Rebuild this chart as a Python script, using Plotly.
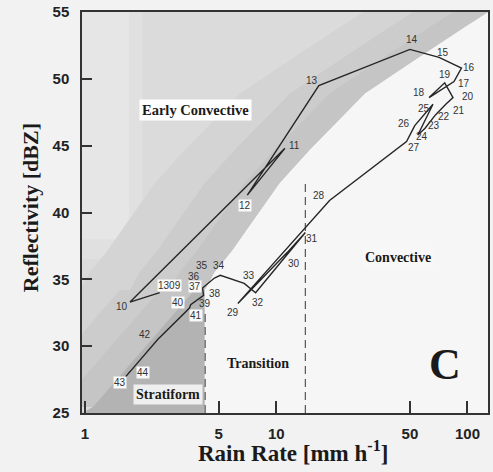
import numpy as np
import plotly.graph_objects as go

# ---------------- data ----------------
point_labels = ["1309", "10", "11", "12", "13", "14", "15", "16", "17", "18", "19",
                "20", "21", "22", "23", "24", "25", "26", "27", "28", "29", "30",
                "31", "32", "33", "34", "35", "36", "37", "38", "39", "40", "41",
                "42", "43", "44"]
rain_rate = [2.46, 1.72, 11.1, 7.06, 16.7, 50.0, 71.0, 93.0, 85.0, 63.0, 76.0,
             84.0, 77.0, 68.0, 60.0, 55.0, 66.0, 53.0, 48.0, 19.0, 6.3, 11.4,
             14.2, 7.8, 6.8, 5.1, 4.75, 4.37, 4.12, 4.17, 3.88, 3.57, 3.52,
             2.4, 1.63, 1.72]
reflectivity = [34.0, 33.3, 44.8, 41.3, 49.5, 52.2, 51.6, 50.8, 49.8, 48.6, 49.7,
                48.6, 48.1, 47.3, 46.3, 45.8, 48.1, 46.5, 45.3, 40.9, 33.2, 37.0,
                38.5, 34.0, 34.7, 35.3, 35.1, 34.7, 34.35, 33.8, 33.45, 33.1, 32.85,
                30.5, 27.7, 28.1]

# label offsets in pixels (right, down) and which labels sit on a white box
label_dx = [10, -8, 10, -2, -7, 2, 4, 8, 10, -10, 0, 15, 13, 9, 9, 4, -9, -11, 7,
            -11, -5, 7, 7, 2, 5, -1, -12, -13, -8, 11, 7, -13, 6, -13, -6, 13]
label_dy = [-7, 4, -3, 10, -5, -10, -5, -1, 2, -5, -8, -1, 6, 2, -3, 2, 4, -2, 6,
            -5, 9, 11, 6, 10, -8, -10, -13, -7, -2, -2, 3, -2, 7, -5, 6, 1]
boxed = {"1309", "37", "40", "41", "43", "44", "12"}

# region boundaries
stratiform_limit = 4.25      # mm/h
convective_limit = 14.2      # mm/h
stratiform_top = 32.4
convective_top = 42.4

# edge of the shaded Z-R band (lower-left to upper-right)
edge_rr = [1.10, 3.74, 4.22, 4.75, 5.90, 6.98, 10.4, 14.9, 29.1, 52.9, 96.5, 128]
edge_dbz = [25.45, 34.2, 34.2, 35.55, 37.19, 38.69, 42.2, 44.67, 48.93, 51.4, 53.87, 55]
strat_rr = [0.965, 4.22, 4.22, 3.74, 1.10]
strat_dbz = [25, 25, 34.2, 34.2, 25.45]

x_ticks = [1, 5, 10, 50, 100]
y_ticks = [25, 30, 35, 40, 45, 50, 55]
x_min, x_max = 0.965, 128
y_min, y_max = 25, 55

fig = go.Figure()

def poly(xs, ys, color):
    fig.add_trace(go.Scatter(x=xs, y=ys, mode="none", fill="toself",
                             fillcolor=color, hoverinfo="skip", showlegend=False))

PX_PER_DECADE = 192.0

def shifted(px):
    f = 10 ** (px / PX_PER_DECADE)
    return [v / f for v in edge_rr]

# light gray above the band
poly([x_min, 4.22] + edge_rr[2:] + [x_min], [y_min, y_min] + edge_dbz[2:] + [y_max], "#dbdbdb")
# lighter strip on the far left (soft two-step edge)
poly([x_min, 2.0, 2.0, x_min], [36.5, 36.5, y_max, y_max], "#e0e0e0")
poly([x_min, 1.7, 1.7, x_min], [38.0, 38.0, y_max, y_max], "#e6e6e6")
# graded band: widest/lightest first
for width, color in [(125, "#d4d4d4"), (75, "#cccccc"), (35, "#c5c5c5")]:
    poly(edge_rr + shifted(width)[::-1], edge_dbz + edge_dbz[::-1], color)
# stratiform box
poly(strat_rr, strat_dbz, "#b3b3b3")

# dashed region limits
for xv, top in [(stratiform_limit, stratiform_top), (convective_limit, convective_top)]:
    fig.add_trace(go.Scatter(x=[xv, xv], y=[y_min, top], mode="lines",
                             line=dict(color="#555", width=1.2, dash="8px,5px"),
                             hoverinfo="skip", showlegend=False))

# storm track
fig.add_trace(go.Scatter(x=rain_rate, y=reflectivity, mode="lines",
                         line=dict(color="#262626", width=1.4), showlegend=False))

ann = []
for lab, xv, yv, dx, dy in zip(point_labels, rain_rate, reflectivity, label_dx, label_dy):
    a = dict(x=np.log10(xv), y=yv, xref="x", yref="y", text=lab, showarrow=False,
             xanchor="center", yanchor="middle", xshift=dx, yshift=-dy,
             font=dict(family="Liberation Sans, Arial", size=10, color="#333333"),
             borderpad=0)
    if lab in boxed:
        a["bgcolor"] = "rgba(255,255,255,0.9)"
    ann.append(a)

L, R, T, B = 82, 3, 12, 59
W, H = 493, 472
pw, ph = W - L - R, H - T - B

def px(xp, yp):
    return (xp - L) / pw, (H - B - yp) / ph

serif = "Liberation Serif, Times New Roman, serif"
def txt(text, xp, yp, size, bg=None, angle=0):
    x, y = px(xp, yp)
    a = dict(x=x, y=y, xref="paper", yref="paper", text=text, showarrow=False,
             xanchor="center", yanchor="middle", textangle=angle, borderpad=2,
             font=dict(family=serif, size=size, color="#1a1a1a", weight="bold"))
    if bg:
        a["bgcolor"] = bg
    ann.append(a)

txt("Early Convective", 196, 110, 14.5, bg="#ffffff")
txt("Convective", 400, 257, 14, bg="#f8f8f8")
txt("Transition", 259, 363, 14)
txt("Stratiform", 168, 394, 14, bg="rgba(245,245,245,0.9)")
txt("C", 447, 364, 44)
txt("Rain Rate [mm h<sup>-1</sup>]", 294, 451, 23)
txt("Reflectivity [dBZ]", 30, 208, 22, angle=-90)

tickfont = dict(family="Liberation Sans, Arial", size=15, color="#222", weight="bold")
fig.update_layout(
    width=W, height=H, margin=dict(l=L, r=R, t=T, b=B),
    paper_bgcolor="#f2f2f2", plot_bgcolor="#f6f6f6",
    annotations=ann, showlegend=False,
    xaxis=dict(type="log", range=[np.log10(x_min), np.log10(x_max)],
               tickvals=x_ticks, ticktext=[str(v) for v in x_ticks],
               ticks="inside", ticklen=12, tickwidth=1.5, tickcolor="#333",
               showline=True, mirror=True, linecolor="#333", linewidth=1.5,
               showgrid=False, zeroline=False, tickfont=tickfont, ticklabelstandoff=6),
    yaxis=dict(range=[y_min, y_max], tickvals=y_ticks,
               ticks="inside", ticklen=10, tickwidth=1.5, tickcolor="#333",
               showline=True, mirror=True, linecolor="#333", linewidth=1.5,
               showgrid=False, zeroline=False, tickfont=tickfont, ticklabelstandoff=8),
)

fig.write_html("out.html")
